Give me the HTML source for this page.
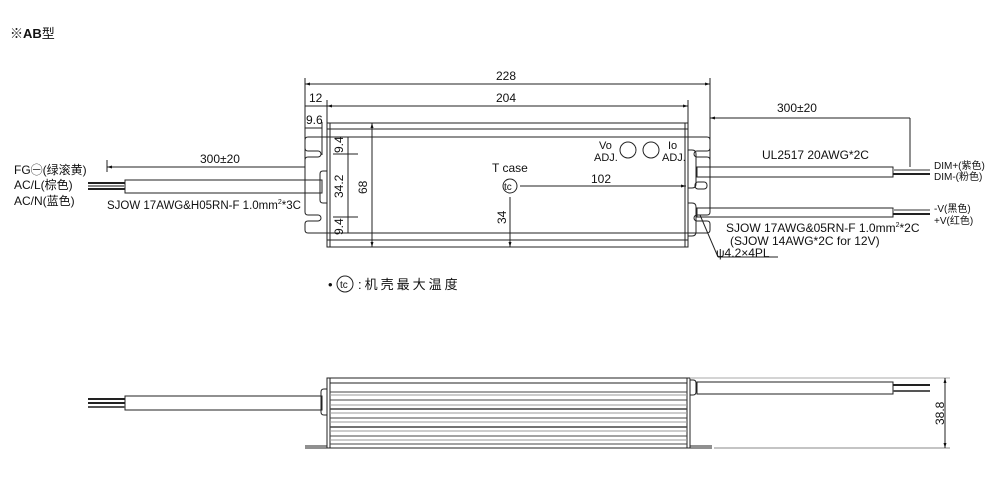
<!DOCTYPE html>
<html><head><meta charset="utf-8"><style>
body{margin:0;background:#fff}
svg{display:block}
text{font-family:"Liberation Sans","Noto Sans CJK SC",sans-serif;fill:#111}
</style></head><body>
<svg width="993" height="480" viewBox="0 0 993 480" xmlns="http://www.w3.org/2000/svg">
<defs>
<marker id="a" viewBox="0 0 10 10" refX="10" refY="5" markerWidth="7" markerHeight="5" orient="auto-start-reverse"><path d="M0,2 L10,5 L0,8z" fill="#111"/></marker>
</defs>
<text x="10" y="38" font-size="13" font-weight="bold">※AB<tspan font-weight="normal">型</tspan></text>

<g stroke="#222" stroke-width="1" fill="none">
<line x1="305" y1="78" x2="305" y2="160"/><line x1="710" y1="78" x2="710" y2="160"/>
<line x1="305" y1="84" x2="710" y2="84" marker-start="url(#a)" marker-end="url(#a)"/>
<line x1="327" y1="100" x2="327" y2="123"/><line x1="688" y1="100" x2="688" y2="123"/>
<line x1="327" y1="106" x2="688" y2="106" marker-start="url(#a)" marker-end="url(#a)"/>
<line x1="305" y1="106" x2="327" y2="106"/>
<line x1="305" y1="128" x2="322" y2="128"/><line x1="322" y1="122" x2="322" y2="155"/>
<rect x="327" y="123" width="361" height="124"/>
<line x1="330" y1="123" x2="330" y2="247"/><line x1="685" y1="123" x2="685" y2="247"/>
<line x1="327" y1="129" x2="688" y2="129"/><line x1="327" y1="137" x2="688" y2="137"/>
<line x1="327" y1="233" x2="688" y2="233"/><line x1="327" y1="240" x2="688" y2="240"/>
<path d="M327,137 H308 Q305,137 305,140 V148 Q305,151 308,151 H318 A3,3 0 0 1 318,157 H308 Q305,157 305,160 V212 Q305,215 308,215 H318 A3,3 0 0 1 318,221 H308 Q305,221 305,224 V230 Q305,233 308,233 H327"/>
<path d="M688,137 H707 Q710,137 710,140 V148 Q710,151 707,151 H697 A3,3 0 0 0 697,157 H707 Q710,157 710,160 V212 Q710,215 707,215 H697 A3,3 0 0 0 697,221 H707 Q710,221 710,224 V230 Q710,233 707,233 H688"/>
<rect x="695" y="182" width="12" height="7" rx="3"/>
<line x1="348" y1="137" x2="348" y2="233"/>
<line x1="333" y1="154" x2="358" y2="154"/><line x1="333" y1="217" x2="358" y2="217"/>
<line x1="372" y1="123" x2="372" y2="247" marker-start="url(#a)" marker-end="url(#a)"/>
<circle cx="510" cy="186" r="7"/>
<line x1="520" y1="186" x2="686" y2="186" marker-end="url(#a)"/>
<line x1="510" y1="197" x2="510" y2="247" marker-end="url(#a)"/>
<circle cx="628" cy="150" r="8"/><circle cx="651" cy="150" r="8"/>
<line x1="107" y1="160" x2="107" y2="172"/>
<line x1="107" y1="167" x2="305" y2="167" marker-start="url(#a)"/>
<rect x="125" y="180" width="197" height="13"/>
<path d="M327,171 H323 Q320,171 320,174 V200 Q320,203 323,203 H327"/>
<rect x="697" y="167" width="196" height="10"/>
<rect x="697" y="208" width="196" height="9"/>
<path d="M688,150 H692 Q696,150 696,154 V184 Q696,188 692,188 H688"/>
<path d="M688,203 H692 Q696,203 696,207 V232 Q696,236 692,236 H688"/>
<line x1="710" y1="118" x2="910" y2="118" marker-start="url(#a)"/>
<line x1="910" y1="118" x2="910" y2="167"/>
<line x1="700" y1="215" x2="718" y2="257"/><line x1="718" y1="257" x2="778" y2="257"/>
</g>
<g stroke-width="2">
<line x1="88" y1="183" x2="125" y2="183" stroke="#222"/><line x1="88" y1="186" x2="125" y2="186" stroke="#888"/><line x1="88" y1="189" x2="125" y2="189" stroke="#222"/>
<line x1="893" y1="170" x2="930" y2="170" stroke="#999"/><line x1="893" y1="174" x2="930" y2="174" stroke="#222"/>
<line x1="893" y1="210" x2="930" y2="210" stroke="#999"/><line x1="893" y1="214" x2="930" y2="214" stroke="#222"/>
</g>
<g font-size="12">
<text x="496" y="80">228</text>
<text x="496" y="102">204</text>
<text x="309" y="102">12</text>
<text x="306" y="124">9.6</text>
<text x="492" y="172">T case</text>
<text x="504" y="190" font-size="10">tc</text>
<text x="591" y="183">102</text>
<text x="599" y="149" font-size="11">Vo</text><text x="594" y="161" font-size="11">ADJ.</text>
<text x="668" y="149" font-size="11">Io</text><text x="662" y="161" font-size="11">ADJ.</text>
<text transform="translate(343,153) rotate(-90)">9.4</text>
<text transform="translate(343,198) rotate(-90)">34.2</text>
<text transform="translate(343,235) rotate(-90)">9.4</text>
<text transform="translate(367,194) rotate(-90)">68</text>
<text transform="translate(506,224) rotate(-90)">34</text>
<text x="200" y="163">300±20</text>
<text x="107" y="209" font-size="11.5">SJOW 17AWG&amp;H05RN-F 1.0mm<tspan font-size="7" dy="-5">2</tspan><tspan dy="5">*3C</tspan></text>
<text x="14" y="174">FG㊀(绿滚黄)</text>
<text x="14" y="189">AC/L(棕色)</text>
<text x="14" y="205">AC/N(蓝色)</text>
<text x="777" y="112">300±20</text>
<text x="762" y="159">UL2517 20AWG*2C</text>
<text x="726" y="232">SJOW 17AWG&amp;05RN-F 1.0mm<tspan font-size="7" dy="-5">2</tspan><tspan dy="5">*2C</tspan></text>
<text x="730" y="245">(SJOW 14AWG*2C for 12V)</text>
<text x="716" y="257">ψ4.2×4PL</text>
<text x="934" y="169" font-size="10">DIM+(紫色)</text>
<text x="934" y="180" font-size="10">DIM-(粉色)</text>
<text x="934" y="212" font-size="10">-V(黑色)</text>
<text x="934" y="224" font-size="10">+V(红色)</text>
<text x="328" y="289" font-size="13">•</text>
<text x="358" y="289" font-size="13" letter-spacing="3">:机壳最大温度</text>
<text x="340" y="288" font-size="10">tc</text>
<text transform="translate(944,425) rotate(-90)">38.8</text>
</g>
<circle cx="345" cy="284" r="8" fill="none" stroke="#222"/>

<g stroke="#222" stroke-width="1" fill="none">
<rect x="327" y="378" width="363" height="70"/>
<line x1="330" y1="378" x2="330" y2="448"/><line x1="687" y1="378" x2="687" y2="448"/>
<line x1="330" y1="383" x2="687" y2="383"/>
<line x1="305" y1="446" x2="327" y2="446"/><line x1="305" y1="448" x2="327" y2="448"/>
<line x1="690" y1="446" x2="712" y2="446"/><line x1="690" y1="448" x2="712" y2="448"/>
<line x1="714" y1="448" x2="950" y2="448" stroke="#888"/>
<line x1="690" y1="378" x2="950" y2="378" stroke="#aaa"/>
<line x1="945" y1="378" x2="945" y2="448" marker-start="url(#a)" marker-end="url(#a)"/>
<rect x="125" y="396" width="197" height="14"/>
<path d="M327,389 H324 Q321,389 321,392 V412 Q321,415 324,415 H327"/>
<rect x="697" y="382" width="196" height="12"/>
<path d="M690,380 H693 Q696,380 696,383 V392 Q696,395 693,395 H690"/>
</g>
<g stroke="#444" stroke-width="1">
<line x1="330" y1="392" x2="687" y2="392"/><line x1="330" y1="395" x2="687" y2="395" stroke="#999"/>
<line x1="330" y1="400" x2="687" y2="400"/><line x1="330" y1="405" x2="687" y2="405" stroke="#999"/>
<line x1="330" y1="409" x2="687" y2="409" stroke-width="1.5"/><line x1="330" y1="413" x2="687" y2="413" stroke="#999"/>
<line x1="330" y1="418" x2="687" y2="418"/><line x1="330" y1="422" x2="687" y2="422" stroke="#999"/>
<line x1="330" y1="427" x2="687" y2="427" stroke-width="1.5"/><line x1="330" y1="431" x2="687" y2="431" stroke="#999"/>
<line x1="330" y1="436" x2="687" y2="436"/><line x1="330" y1="440" x2="687" y2="440" stroke="#999"/>
<line x1="330" y1="444" x2="687" y2="444"/>
</g>
<g stroke-width="2">
<line x1="88" y1="399" x2="125" y2="399" stroke="#222"/><line x1="88" y1="403" x2="125" y2="403" stroke="#222"/><line x1="88" y1="407" x2="125" y2="407" stroke="#555"/>
<line x1="893" y1="385" x2="930" y2="385" stroke="#222"/><line x1="893" y1="391" x2="930" y2="391" stroke="#555"/>
</g>
</svg>
</body></html>
